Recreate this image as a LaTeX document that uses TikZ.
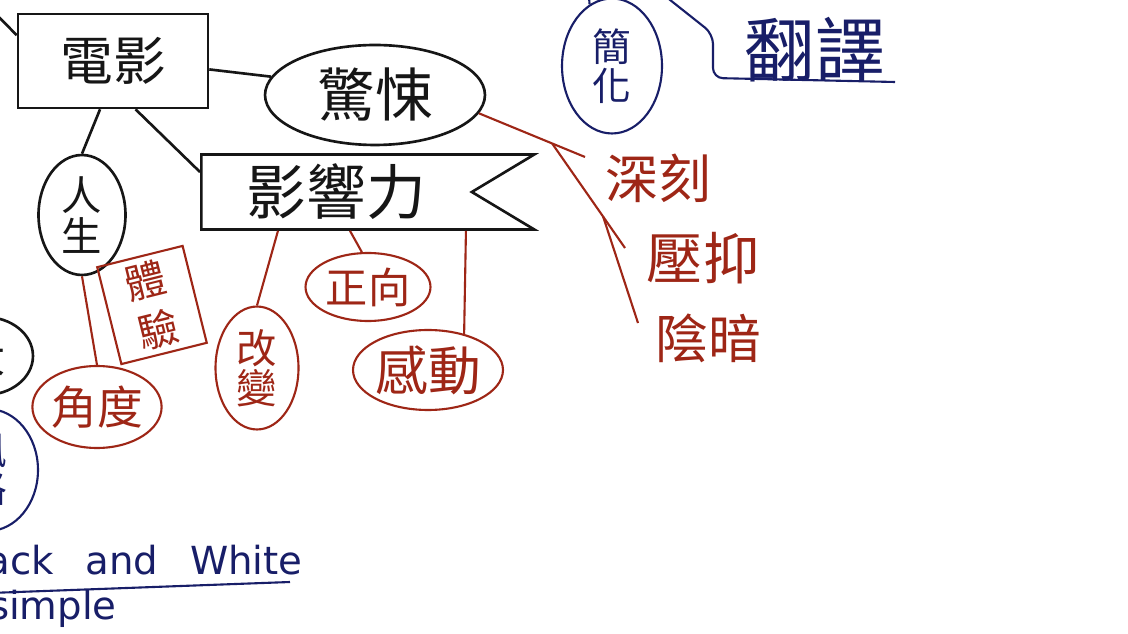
\documentclass[tikz,border=0pt]{standalone}
\usepackage{fontspec}
\usetikzlibrary{shapes.geometric}
\usetikzlibrary{shapes.symbols}
\newfontfamily\cjk{Noto Sans CJK TC}
\newfontfamily\latin[WordSpace=2.6]{DejaVu Sans}
\newcommand\hand[1]{\cjk\fontsize{#1}{#1}\selectfont}
\newcommand\script[1]{\latin\fontsize{#1}{#1}\selectfont}
\definecolor{inkblack}{RGB}{22,22,22}
\definecolor{inkred}{RGB}{158,38,22}
\definecolor{inkblue}{RGB}{24,30,104}
\tikzset{
  blackpen/.style={draw=inkblack,line width=1.5pt,text=inkblack},
  redpen/.style={draw=inkred,line width=1.2pt,text=inkred},
  bluepen/.style={draw=inkblue,line width=1.2pt,text=inkblue},
  bubble/.style={ellipse,inner sep=0pt}
}

\begin{document}
\begin{tikzpicture}[x=0.02cm,y=-0.02cm]
      \useasboundingbox (0,0) rectangle (1128,634);
      \clip (0,0) rectangle (1128,634);
      \fill[white] (0,0) rectangle (1128,634);
      % black ink
      \node[blackpen,minimum width=3.8cm,minimum height=1.88cm,font=\hand{30}] (film) at (113,61) {電影};
      \node[blackpen,bubble,minimum width=4.4cm,minimum height=2cm,font=\hand{33}] (thrill) at (375,95) {驚悚};
      \node[blackpen,bubble,minimum width=1.74cm,minimum height=2.4cm,font=\hand{23},align=center] (life) at (82,215) {人\\生};
      \node[blackpen,signal,signal to=nowhere,signal from=east,signal pointer angle=62,minimum width=6.66cm,minimum height=1.5cm,font=\hand{34},anchor=west] (impact) at (200,192) {影響力};
      \node[blackpen,bubble,minimum width=1.92cm,minimum height=1.56cm,font=\hand{24}] (lost) at (-15,356) {大};
      \coordinate (filltop) at (-10,8);
      \draw[blackpen] (film.165) -- (filltop);
      \draw[blackpen] (film.-5) -- (thrill.170);
      \draw[blackpen] (film.255) -- (life.north);
      \draw[blackpen] (film.-65) -- ([yshift=0.4cm]impact.west);
      % red ink
      \node[redpen,rotate=14,minimum width=1.76cm,minimum height=1.98cm,font=\cjk\fontsize{23}{29}\selectfont,align=center] (exper) at (152,305) {體\\驗};
      \node[redpen,bubble,minimum width=2.5cm,minimum height=1.64cm,font=\hand{26}] (angle) at (97,407) {角度};
      \node[redpen,bubble,minimum width=1.66cm,minimum height=2.46cm,font=\hand{23},align=center] (change) at (257,368) {改\\變};
      \node[redpen,bubble,minimum width=2.5cm,minimum height=1.36cm,font=\hand{24}] (posit) at (368,287) {正向};
      \node[redpen,bubble,minimum width=3cm,minimum height=1.6cm,font=\hand{30}] (moved) at (428,370) {感動};
      \node[text=inkred,font=\hand{30}] (deep) at (658,178) {深刻};
      \node[text=inkred,font=\hand{32}] (repress) at (703,258) {壓抑};
      \node[text=inkred,font=\hand{30}] (dark) at (708,338) {陰暗};
      \draw[redpen] (life.south) -- (angle.north);
      \draw[redpen] ([xshift=1.56cm]impact.south west) -- (change.north);
      \draw[redpen] ([xshift=3cm]impact.south west) -- (posit.100);
      \draw[redpen] ([xshift=5.32cm]impact.south west) -- (moved.45);
      \coordinate (deepend) at (585,157);
      \coordinate (repend) at (625,248);
      \coordinate (darkend) at (638,323);
      \draw[redpen] (thrill.-10) -- (deepend) coordinate[pos=0.69] (fork1);
      \draw[redpen] (fork1) -- (repend) coordinate[pos=0.7] (fork2);
      \draw[redpen] (fork2) -- (darkend);
      % blue ink
      \node[bluepen,bubble,minimum width=2cm,minimum height=2.44cm,font=\hand{22},align=center] (style) at (-12,470) {風\\格};
      \node[bluepen,bubble,minimum width=2cm,minimum height=2.7cm,font=\hand{22},align=center] (simpl) at (612,66) {簡\\化};
      \node[text=inkblue,font=\hand{40}] (transl) at (815,50) {翻譯};
      \node[text=inkblue,font=\script{22},anchor=base east,inner sep=0pt] (bw) at (303,574) {Black and White};
      \node[text=inkblue,font=\script{22},anchor=base east,inner sep=0pt] (simple) at (117,619) {simple};
      \coordinate (simpltop) at (588,-15);
      \draw[bluepen] (simpl.110) -- (simpltop);
      \coordinate (trtop) at (655,-12);
      \coordinate (trend) at (895,82);
      \draw[bluepen,rounded corners=0.2cm] (trtop) -- (713,34) -- (713,78) -- (trend);
      \coordinate (ulstart) at (-10,593);
      \coordinate (ulend) at (290,582);
      \draw[bluepen] (ulstart) -- (ulend);
    \end{tikzpicture}
\end{document}
